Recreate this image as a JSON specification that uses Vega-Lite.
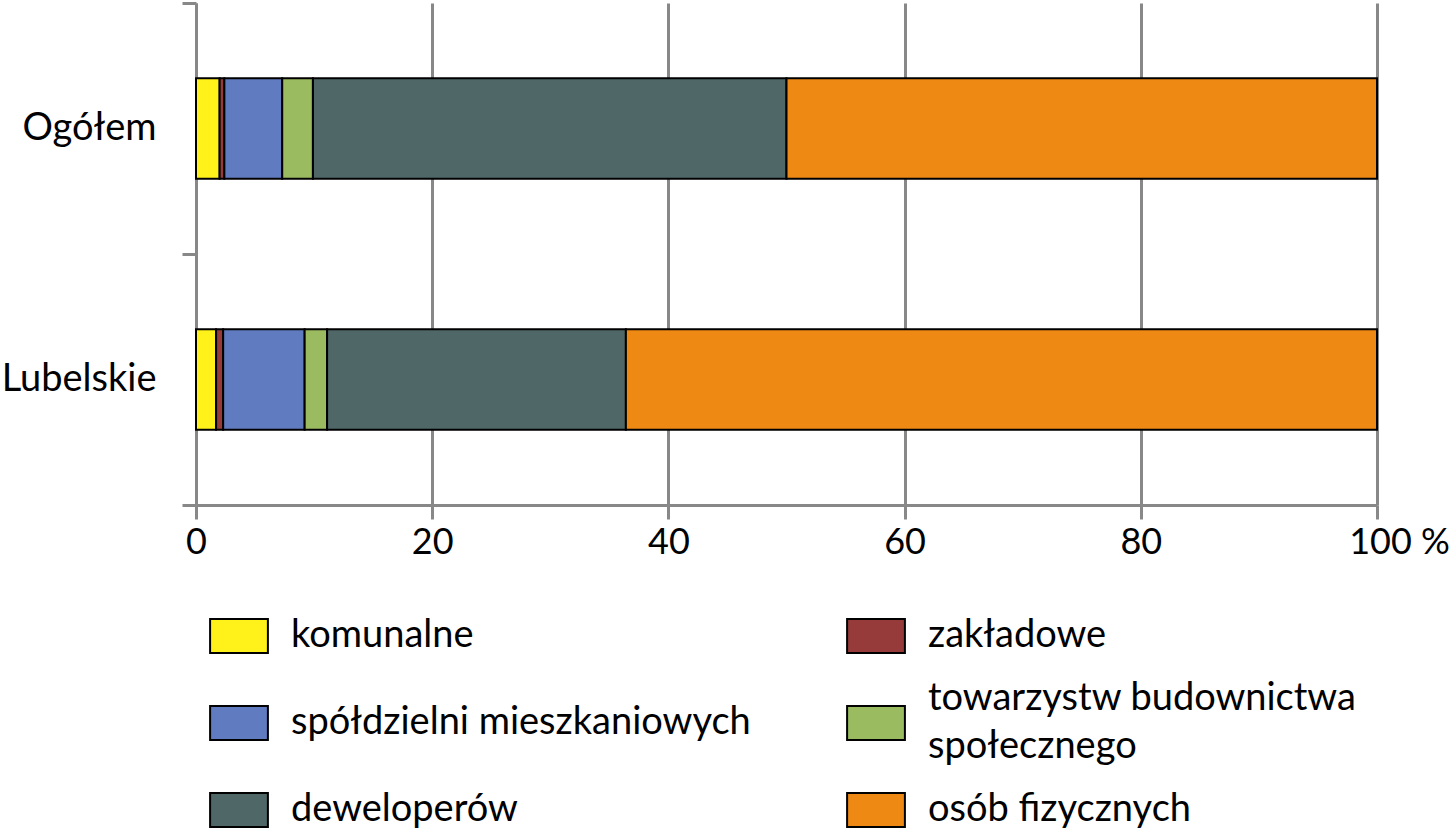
{
  "$schema": "https://vega.github.io/schema/vega-lite/v6.json",
  "width": 1181,
  "height": 502,
  "padding": {"left": 0, "top": 1, "right": 0, "bottom": 0},
  "background": "white",
  "config": {
    "font": "Lato",
    "view": {"stroke": null}
  },
  "data": {
    "values": [
      {"region": "Ogółem", "typ": "komunalne", "ord": 1, "pct": 2.0},
      {"region": "Ogółem", "typ": "zakładowe", "ord": 2, "pct": 0.4},
      {"region": "Ogółem", "typ": "spółdzielni mieszkaniowych", "ord": 3, "pct": 4.9},
      {"region": "Ogółem", "typ": "towarzystw budownictwa społecznego", "ord": 4, "pct": 2.6},
      {"region": "Ogółem", "typ": "deweloperów", "ord": 5, "pct": 40.1},
      {"region": "Ogółem", "typ": "osób fizycznych", "ord": 6, "pct": 50.0},
      {"region": "Lubelskie", "typ": "komunalne", "ord": 1, "pct": 1.7},
      {"region": "Lubelskie", "typ": "zakładowe", "ord": 2, "pct": 0.6},
      {"region": "Lubelskie", "typ": "spółdzielni mieszkaniowych", "ord": 3, "pct": 6.9},
      {"region": "Lubelskie", "typ": "towarzystw budownictwa społecznego", "ord": 4, "pct": 1.9},
      {"region": "Lubelskie", "typ": "deweloperów", "ord": 5, "pct": 25.3},
      {"region": "Lubelskie", "typ": "osób fizycznych", "ord": 6, "pct": 63.6}
    ]
  },
  "layer": [
    {
      "mark": {"type": "bar", "stroke": "black", "strokeWidth": 2},
      "encoding": {
        "y": {
          "field": "region",
          "type": "nominal",
          "sort": ["Ogółem", "Lubelskie"],
          "scale": {"paddingInner": 0.6, "paddingOuter": 0.3},
          "axis": {
            "title": null,
            "orient": "left",
            "domain": false,
            "ticks": false,
            "labelFontSize": 38,
            "labelColor": "black",
            "labelPadding": 40,
            "labelBaseline": "middle",
            "grid": false,
            "minExtent": 196,
            "maxExtent": 196
          }
        },
        "x": {
          "field": "pct",
          "type": "quantitative",
          "stack": "zero",
          "scale": {"domain": [0, 100], "nice": false},
          "axis": {
            "title": null,
            "values": [0, 20, 40, 60, 80, 100],
            "labelExpr": "datum.value == 100 ? '100 %' : datum.label",
            "labelOffset": {"condition": {"test": "datum.value == 100", "value": 22}, "value": 0},
            "labelFontSize": 36,
            "labelColor": "black",
            "labelPadding": 6,
            "labelFlush": false,
            "labelOverlap": false,
            "domainColor": "#888888",
            "domainWidth": 3,
            "tickColor": "#888888",
            "tickWidth": 3,
            "tickSize": 14,
            "grid": true,
            "gridColor": "#888888",
            "gridWidth": 3,
            "gridOpacity": 1
          }
        },
        "order": {"field": "ord", "type": "quantitative"},
        "color": {
          "field": "typ",
          "type": "nominal",
          "scale": {
            "domain": ["komunalne", "spółdzielni mieszkaniowych", "deweloperów", "zakładowe", "towarzystw budownictwa społecznego", "osób fizycznych"],
            "range": ["#FFF21A", "#607BC0", "#4F6767", "#963A3A", "#9BBB61", "#EE8914"]
          },
          "legend": {
            "title": null,
            "orient": "none",
            "legendX": 24,
            "legendY": 614,
            "columns": 2,
            "columnPadding": 92,
            "rowPadding": 23,
            "padding": 0,
            "symbolType": "M-1.7,-1L1.7,-1L1.7,1L-1.7,1Z",
            "symbolSize": 1156,
            "symbolStrokeColor": "black",
            "symbolStrokeWidth": 2,
            "symbolOpacity": 1,
            "labelFontSize": 38,
            "labelColor": "black",
            "labelOffset": 33,
            "labelLimit": 700,
            "labelExpr": "datum.label == 'towarzystw budownictwa społecznego' ? ['towarzystw budownictwa', 'społecznego'] : datum.label",
            "encode": {
              "symbols": {
                "update": {
                  "shape": {"signal": "(datum.value == 'towarzystw budownictwa społecznego' || datum.value == 'spółdzielni mieszkaniowych') ? 'M-1.7,0.41L1.7,0.41L1.7,2.41L-1.7,2.41Z' : 'M-1.7,-1L1.7,-1L1.7,1L-1.7,1Z'"}
                }
              },
              "labels": {
                "update": {
                  "lineHeight": {"value": 48},
                  "dy": {"signal": "datum.value == 'spółdzielni mieszkaniowych' ? 24 : 0"}
                }
              }
            }
          }
        }
      }
    },
    {
      "mark": {"type": "rule", "opacity": 0},
      "encoding": {
        "y": {
          "datum": 0,
          "type": "quantitative",
          "scale": {"domain": [0, 2], "nice": false},
          "axis": {
            "title": null,
            "orient": "left",
            "values": [0, 1, 2],
            "labels": false,
            "grid": false,
            "domainColor": "#888888",
            "domainWidth": 3,
            "tickColor": "#888888",
            "tickWidth": 3,
            "tickSize": 14
          }
        }
      }
    }
  ],
  "resolve": {"scale": {"y": "independent"}, "axis": {"y": "independent"}}
}
